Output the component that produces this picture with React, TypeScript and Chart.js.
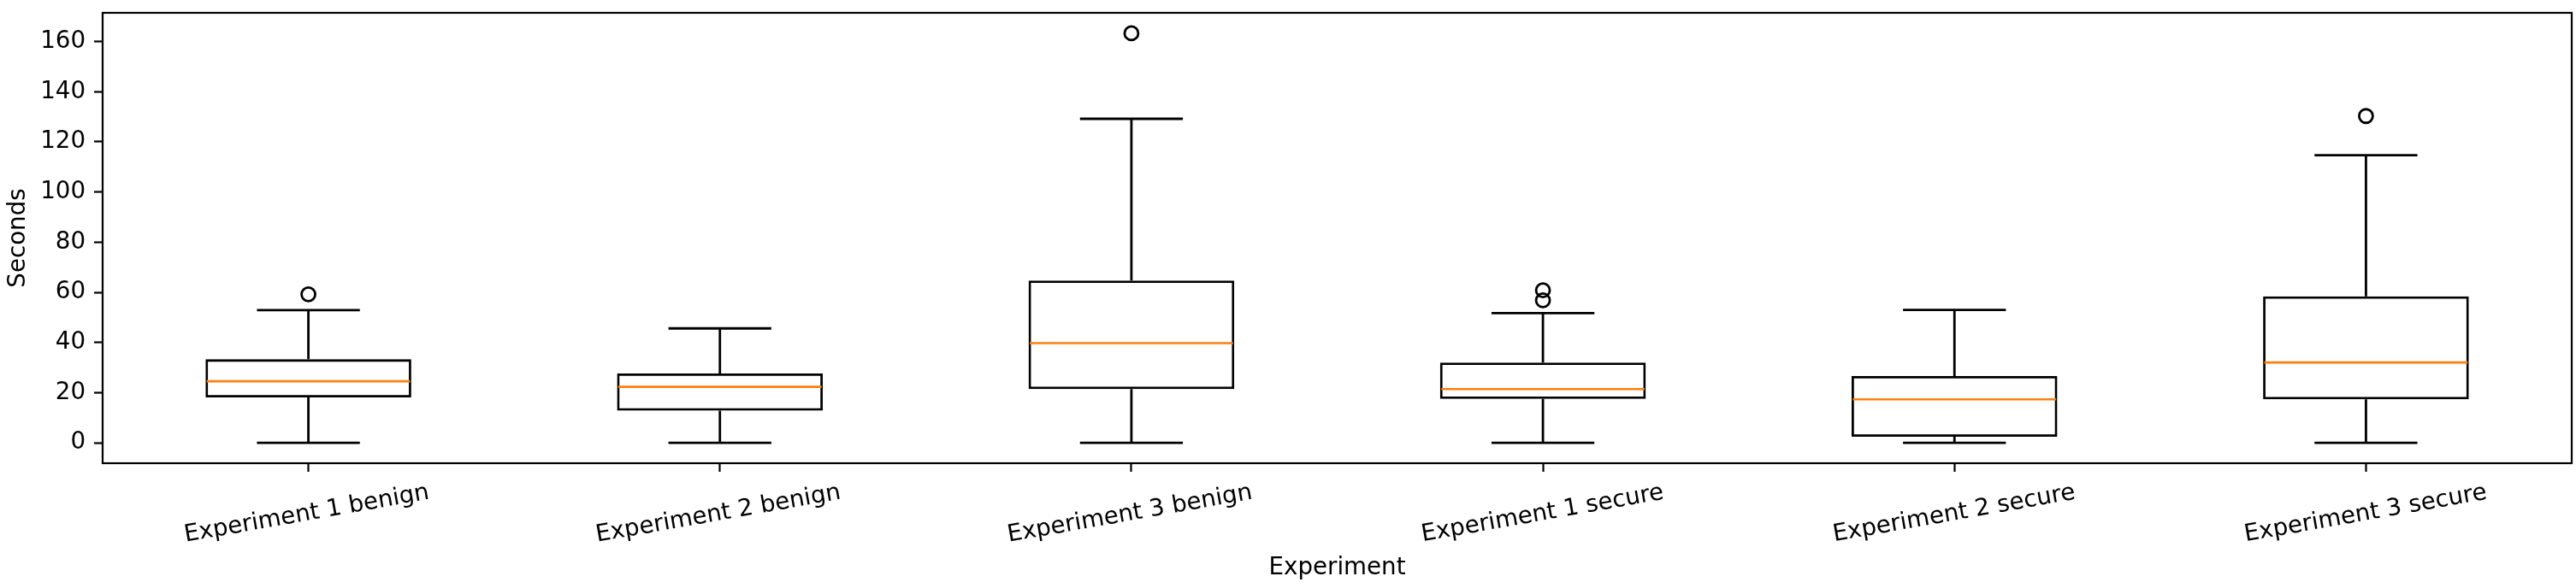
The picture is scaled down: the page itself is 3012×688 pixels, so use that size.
import { useEffect, useRef } from "react";
import Chart from "chart.js/auto";

const categories = [
  "Experiment 1 benign",
  "Experiment 2 benign",
  "Experiment 3 benign",
  "Experiment 1 secure",
  "Experiment 2 secure",
  "Experiment 3 secure",
];
const whiskerLow = [0, 0, 0, 0, 0, 0];
const q1 = [18.1, 12.8, 21.4, 17.5, 2.4, 17.3];
const median = [24.5, 22.3, 39.7, 21.4, 17.3, 32.0];
const q3 = [33.3, 27.6, 64.7, 32.0, 26.6, 58.4];
const whiskerHigh = [52.9, 45.6, 129.2, 51.7, 53.0, 114.7];
const outliers = [[59.2], [], [163.3], [60.8, 56.8], [], [130.3]];
const yTicks = [0, 20, 40, 60, 80, 100, 120, 140, 160];

const FONT = "DejaVu Sans";
const FS = 27.7;
const LW = 2.8;

// y range like matplotlib: data span + 5% margin on each side
const allValues = [...whiskerLow, ...whiskerHigh, ...outliers.flat()];
const dataMin = Math.min(...allValues);
const dataMax = Math.max(...allValues);
const margin = (dataMax - dataMin) * 0.05;

// whiskers, caps, medians and the axes frame
const boxPlugin = {
  id: "boxWhiskers",
  afterDatasetsDraw(chart: any) {
    const ctx = chart.ctx;
    const y = chart.scales.y;
    const meta = chart.getDatasetMeta(0);
    ctx.save();
    meta.data.forEach((bar: any, i: number) => {
      const cx = bar.x;
      const half = bar.width / 2;
      const capHalf = half / 2;
      const py = (v: number) => y.getPixelForValue(v);
      ctx.strokeStyle = "#000";
      ctx.lineWidth = LW;
      ctx.beginPath();
      ctx.moveTo(cx, py(q3[i]));
      ctx.lineTo(cx, py(whiskerHigh[i]));
      ctx.moveTo(cx, py(q1[i]));
      ctx.lineTo(cx, py(whiskerLow[i]));
      ctx.moveTo(cx - capHalf, py(whiskerHigh[i]));
      ctx.lineTo(cx + capHalf, py(whiskerHigh[i]));
      ctx.moveTo(cx - capHalf, py(whiskerLow[i]));
      ctx.lineTo(cx + capHalf, py(whiskerLow[i]));
      ctx.stroke();
      ctx.strokeStyle = "#ff7f0e";
      ctx.lineWidth = 2.6;
      ctx.beginPath();
      ctx.moveTo(cx - half + LW / 2, py(median[i]));
      ctx.lineTo(cx + half - LW / 2, py(median[i]));
      ctx.stroke();
    });
    const a = chart.chartArea;
    ctx.strokeStyle = "#000";
    ctx.lineWidth = 2.2;
    ctx.strokeRect(a.left, a.top, a.right - a.left, a.bottom - a.top);
    ctx.restore();
  },
};

export default function App() {
  const chartRef = useRef<HTMLCanvasElement>(null);

  useEffect(() => {
    if (!chartRef.current) return;
    Chart.defaults.font.family = FONT;
    Chart.defaults.color = "#000";

    const outlierPoints = outliers.flatMap((vals, i) =>
      vals.map((v) => ({ x: categories[i], y: v }))
    );

    const chartInstance = new Chart(chartRef.current, {
      type: "bar",
      data: {
        labels: categories,
        datasets: [
          {
            type: "bar",
            data: q1.map((v, i) => [v, q3[i]]),
            backgroundColor: "rgba(255,255,255,0)",
            borderColor: "#000",
            borderWidth: LW,
            borderSkipped: false,
            categoryPercentage: 1,
            barPercentage: 0.5,
          },
          {
            type: "line",
            data: outlierPoints as any,
            showLine: false,
            pointStyle: "circle",
            pointRadius: 8,
            pointBorderWidth: LW,
            pointBorderColor: "#000",
            pointBackgroundColor: "rgba(0,0,0,0)",
          },
        ],
      },
      options: {
        responsive: false,
        animation: false,
        devicePixelRatio: 1,
        layout: {
          autoPadding: false,
          padding: { left: 0, top: 15, right: 5, bottom: 0 },
        },
        plugins: {
          legend: { display: false },
          tooltip: { enabled: false },
        },
        scales: {
          x: {
            type: "category",
            offset: true,
            grid: {
              offset: false,
              drawOnChartArea: false,
              drawTicks: true,
              tickLength: 10,
              tickWidth: 2.2,
              tickColor: "#000",
            },
            border: { display: false },
            ticks: {
              autoSkip: false,
              minRotation: 10,
              maxRotation: 10,
              labelOffset: 141,
              padding: 8,
              color: "#000",
              font: { family: FONT, size: FS },
            },
            title: {
              display: true,
              text: "Experiment",
              color: "#000",
              font: { family: FONT, size: FS },
              padding: { top: 0, bottom: 7 },
            },
            afterFit: (scale: any) => {
              scale.height = 146;
              scale.paddingLeft = 0;
              scale.paddingRight = 0;
            },
          },
          y: {
            type: "linear",
            min: dataMin - margin,
            max: dataMax + margin,
            afterBuildTicks: (scale: any) => {
              scale.ticks = yTicks.map((v) => ({ value: v }));
            },
            grid: {
              drawOnChartArea: false,
              drawTicks: true,
              tickLength: 10,
              tickWidth: 2.2,
              tickColor: "#000",
            },
            border: { display: false },
            ticks: {
              padding: 10,
              color: "#000",
              font: { family: FONT, size: FS },
            },
            title: {
              display: true,
              text: "Seconds",
              color: "#000",
              font: { family: FONT, size: FS },
              padding: { top: 5, bottom: 0 },
            },
            afterFit: (scale: any) => {
              scale.width = 120;
              scale.paddingTop = 0;
              scale.paddingBottom = 0;
            },
          },
        },
      },
      plugins: [boxPlugin],
    });

    return () => {
      chartInstance.destroy();
    };
  }, []);

  return (
    <canvas
      ref={chartRef}
      width={3012}
      height={688}
      style={{ position: "absolute", left: 0, top: 0, display: "block" }}
    />
  );
}
